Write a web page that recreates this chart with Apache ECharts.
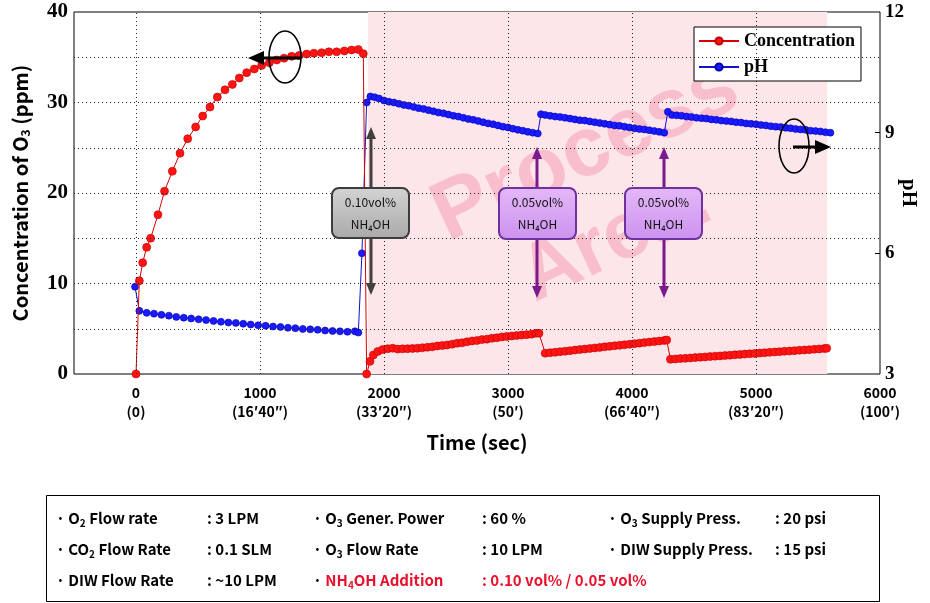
<!DOCTYPE html>
<html>
<head>
<meta charset="utf-8">
<script src="https://cdn.jsdelivr.net/npm/echarts@6/dist/echarts.min.js"></script>
<style>html,body{margin:0;padding:0;background:#fff}#c{width:930px;height:603px}</style>
</head>
<body>
<div id="c"></div>
<script>
// ---------- DATA ----------
const xTickLabels = ['0\n(0)', '1000\n(16′40″)', '2000\n(33′20″)', '3000\n(50′)', '4000\n(66′40″)', '5000\n(83′20″)', '6000\n(100′)'];
const leftTickLabels = ['0', '10', '20', '30', '40'];
const rightTickLabels = ['3', '6', '9', '12'];
const gridX = [0, 1000, 2000, 3000, 4000, 5000];
const gridY = [5, 10, 15, 20, 25, 30, 35];
const processArea = [1870, 5575];

// Concentration of O3 (ppm)
const concT1 = [0,27,54,86,118,177,230,293,355,417,481,538,597,656,718,777,833,893,954,1013,1075,1135,1194,1255,1315,1376,1435,1497,1556,1618,1680,1739,1793,1833,1860];
const concV1 = [0,10.3,12.3,14.0,15.0,17.6,20.2,22.4,24.4,26.0,27.3,28.5,29.5,30.6,31.4,32.0,32.7,33.3,33.7,34.1,34.4,34.7,34.9,35.1,35.2,35.35,35.45,35.5,35.6,35.6,35.7,35.8,35.85,35.4,0];
const concT2 = [1887,1914,1950,1990,2030,2070,2110,2150,2190,2230,2270,2310,2350,2390,2430,2470,2510,2550,2590,2630,2670,2710,2750,2790,2830,2870,2910,2950,2990,3030,3070,3110,3150,3190,3225,3250];
const concV2 = [1.4,2.1,2.5,2.7,2.8,2.85,2.75,2.78,2.8,2.82,2.85,2.9,2.95,3.0,3.1,3.15,3.2,3.3,3.4,3.45,3.55,3.65,3.7,3.8,3.85,3.95,4.0,4.1,4.15,4.2,4.25,4.3,4.35,4.4,4.5,4.5];
const concT3 = [3300,3340,3380,3420,3460,3500,3540,3580,3620,3660,3700,3740,3780,3820,3860,3900,3940,3980,4020,4060,4100,4140,4180,4220,4260,4280];
const concV3 = [2.30,2.36,2.40,2.47,2.52,2.58,2.64,2.70,2.76,2.82,2.88,2.94,3.00,3.06,3.12,3.17,3.23,3.29,3.35,3.41,3.47,3.53,3.58,3.64,3.70,3.76];
const concT4 = [4310,4350,4390,4430,4470,4510,4550,4590,4630,4670,4710,4750,4790,4830,4870,4910,4950,4990,5030,5070,5110,5150,5190,5230,5270,5310,5350,5390,5430,5470,5510,5550,5570];
const concV4 = [1.62,1.66,1.70,1.73,1.77,1.81,1.85,1.89,1.93,1.97,2.0,2.04,2.08,2.12,2.16,2.2,2.24,2.27,2.31,2.35,2.39,2.43,2.47,2.51,2.54,2.58,2.62,2.66,2.69,2.73,2.77,2.81,2.84];

// pH
const phT1 = [-8,27,86,145,205,265,325,385,445,505,565,625,685,745,805,865,925,985,1045,1105,1165,1225,1285,1345,1405,1465,1525,1585,1645,1705,1765,1793,1822,1860];
const phV1 = [5.17,4.57,4.52,4.5,4.47,4.45,4.42,4.4,4.38,4.36,4.34,4.32,4.3,4.28,4.27,4.25,4.23,4.21,4.2,4.18,4.17,4.15,4.14,4.12,4.11,4.1,4.08,4.07,4.06,4.05,4.06,4.03,6.0,9.75];
const phT2 = [1890,1925,1960,2000,2040,2080,2120,2160,2200,2240,2280,2320,2360,2400,2440,2480,2520,2560,2600,2640,2680,2720,2760,2800,2840,2880,2920,2960,3000,3040,3080,3120,3160,3200,3240];
const phV2 = [9.9,9.88,9.85,9.8,9.77,9.75,9.72,9.69,9.67,9.64,9.61,9.59,9.56,9.53,9.5,9.48,9.45,9.42,9.4,9.37,9.34,9.32,9.29,9.26,9.23,9.21,9.18,9.15,9.13,9.1,9.07,9.05,9.02,9.0,8.98];
const phT3 = [3266,3300,3340,3380,3420,3460,3500,3540,3580,3620,3660,3700,3740,3780,3820,3860,3900,3940,3980,4020,4060,4100,4140,4180,4220,4260];
const phV3 = [9.46,9.44,9.42,9.4,9.39,9.37,9.35,9.33,9.31,9.3,9.28,9.26,9.24,9.22,9.2,9.18,9.17,9.15,9.13,9.11,9.09,9.08,9.06,9.04,9.02,9.0];
const phT4 = [4289,4323,4360,4400,4440,4480,4520,4560,4600,4640,4680,4720,4760,4800,4840,4880,4920,4960,5000,5040,5080,5120,5160,5200,5240,5280,5320,5360,5400,5440,5480,5520,5560,5600];
const phV4 = [9.52,9.44,9.43,9.42,9.4,9.39,9.37,9.36,9.35,9.33,9.32,9.3,9.29,9.28,9.26,9.25,9.23,9.22,9.21,9.19,9.18,9.16,9.15,9.14,9.12,9.11,9.09,9.08,9.07,9.05,9.04,9.03,9.01,9.0];

// ---------- BUILD ----------
function pairs(ts, vs) { return ts.map((t, i) => [t, vs[i]]); }
const concData = [].concat(pairs(concT1, concV1), pairs(concT2, concV2), pairs(concT3, concV3), pairs(concT4, concV4));
const phData = [].concat(pairs(phT1, phV1), pairs(phT2, phV2), pairs(phT3, phV3), pairs(phT4, phV4));

const SANS = '"Noto Sans CJK KR", "Noto Sans", sans-serif';
const SERIF = '"Liberation Serif", "DejaVu Serif", serif';
const ZTOP = 100;

const chart = echarts.init(document.getElementById('c'), null, { renderer: 'canvas' });

function arrowV(x, y1, y2, color) {
  return [
    { type: 'rect', z: ZTOP, shape: { x: x - 1.5, y: y1 + 10, width: 3, height: (y2 - y1) - 20 }, style: { fill: color } },
    { type: 'polygon', z: ZTOP, shape: { points: [[x, y1], [x - 5, y1 + 12], [x + 5, y1 + 12]] }, style: { fill: color } },
    { type: 'polygon', z: ZTOP, shape: { points: [[x, y2], [x - 5, y2 - 12], [x + 5, y2 - 12]] }, style: { fill: color } }
  ];
}
function boxText(cx, cy, pct) {
  return { type: 'text', x: cx, y: cy, z: ZTOP + 20,
    style: { text: pct + '\nNH₄OH', align: 'center', verticalAlign: 'middle',
      fontFamily: SANS, fontSize: 12, lineHeight: 22, fill: '#111' } };
}
function boxRect(x, y, w, h, fill1, fill2, stroke) {
  return { type: 'rect', z: ZTOP + 10, shape: { x: x, y: y, width: w, height: h, r: 7 },
    style: { fill: new echarts.graphic.LinearGradient(0, 0, 0, 1, [{ offset: 0, color: fill1 }, { offset: 1, color: fill2 }]), stroke: stroke, lineWidth: 2 } };
}

const tRich = {
  n: { fontFamily: SANS, fontSize: 15, fontWeight: 'bold', fill: '#000', lineHeight: 20, verticalAlign: 'middle' },
  s: { fontFamily: SANS, fontSize: 10, fontWeight: 'bold', fill: '#000', lineHeight: 20, verticalAlign: 'bottom' },
  r: { fontFamily: SANS, fontSize: 15, fontWeight: 'bold', fill: '#e8102a', lineHeight: 20, verticalAlign: 'middle' },
  rs: { fontFamily: SANS, fontSize: 10, fontWeight: 'bold', fill: '#e8102a', lineHeight: 20, verticalAlign: 'bottom' }
};
const tableRows = [
  ['{n|· O}{s|2}{n| Flow rate}', '{n|: 3 LPM}', '{n|· O}{s|3}{n| Gener. Power}', '{n|: 60 %}', '{n|· O}{s|3}{n| Supply Press.}', '{n|: 20 psi}'],
  ['{n|· CO}{s|2}{n| Flow Rate}', '{n|: 0.1 SLM}', '{n|· O}{s|3}{n| Flow Rate}', '{n|: 10 LPM}', '{n|· DIW Supply Press.}', '{n|: 15 psi}'],
  ['{n|· DIW Flow Rate}', '{n|: ~10 LPM}', '{n|· }{r|NH}{rs|4}{r|OH Addition}', '{r|: 0.10 vol% / 0.05 vol%}', '', '']
];
const colX = [56, 207, 313, 482, 608, 775];
const rowY = [518, 549, 580];
const tableGraphics = [{ type: 'rect', z: ZTOP, shape: { x: 46.5, y: 495.5, width: 833, height: 106 }, style: { fill: '#fff', stroke: '#000', lineWidth: 1 } }];
tableRows.forEach((row, ri) => row.forEach((txt, ci) => {
  if (!txt) return;
  tableGraphics.push({ type: 'text', z: ZTOP + 1, x: colX[ci], y: rowY[ri], style: { text: txt, rich: tRich, align: 'left', verticalAlign: 'middle' } });
}));

const deg = Math.PI / 180;
const graphics = [
  // watermark (between pink area and data)
  { type: 'text', x: 586, y: 152, rotation: 25 * deg, z: 1.5,
    style: { text: 'Process', font: 'bold 84px "Liberation Sans", Arial, sans-serif', fill: 'rgba(243,135,160,0.42)', align: 'center', verticalAlign: 'middle' } },
  { type: 'text', x: 616, y: 240, rotation: 25 * deg, z: 1.5,
    style: { text: 'Area.', font: 'bold 80px "Liberation Sans", Arial, sans-serif', fill: 'rgba(243,135,160,0.42)', align: 'center', verticalAlign: 'middle' } },
  // ellipses & arrows
  { type: 'ellipse', z: ZTOP, shape: { cx: 285, cy: 57, rx: 16, ry: 26 }, style: { fill: 'none', stroke: '#000', lineWidth: 1.6 } },
  { type: 'rect', z: ZTOP, shape: { x: 262, y: 56.5, width: 38, height: 3 }, style: { fill: '#000' } },
  { type: 'polygon', z: ZTOP, shape: { points: [[248, 58], [264, 51], [264, 65]] }, style: { fill: '#000' } },
  { type: 'ellipse', z: ZTOP, shape: { cx: 794, cy: 146, rx: 15, ry: 27 }, style: { fill: 'none', stroke: '#000', lineWidth: 1.6 } },
  { type: 'rect', z: ZTOP, shape: { x: 793, y: 145.5, width: 24, height: 3 }, style: { fill: '#000' } },
  { type: 'polygon', z: ZTOP, shape: { points: [[831, 147], [815, 140], [815, 154]] }, style: { fill: '#000' } }
].concat(
  arrowV(371, 127, 295, '#404040'),
  arrowV(537, 147, 298, '#7a1a8c'),
  arrowV(664, 147, 298, '#7a1a8c'),
  [
    boxRect(332, 188, 77, 50, '#d4d4d4', '#a9a9a9', '#3c3c3c'),
    boxText(370.5, 213, '0.10vol%'),
    boxRect(499, 188, 77, 51, '#e4b8f8', '#cc92ee', '#7030a0'),
    boxText(537.5, 213.5, '0.05vol%'),
    boxRect(625, 188, 77, 51, '#e4b8f8', '#cc92ee', '#7030a0'),
    boxText(663.5, 213.5, '0.05vol%')
  ],
  tableGraphics
);

const option = {
  animation: false,
  backgroundColor: '#fff',
  grid: { left: 74, right: 50, top: 12, bottom: 229, show: true, borderColor: '#000', borderWidth: 1, backgroundColor: '#fff',
    containLabel: false, outerBoundsMode: 'none' },
  legend: {
    data: ['Concentration', 'pH'], orient: 'vertical', left: 694, top: 27,
    backgroundColor: '#fff', borderColor: '#000', borderWidth: 1, padding: [5, 6, 5, 4],
    itemWidth: 40, itemHeight: 9, itemGap: 8,
    textStyle: { fontFamily: SERIF, fontWeight: 'bold', fontSize: 18, color: '#000', lineHeight: 17 }
  },
  xAxis: {
    type: 'value', min: -500, max: 6000, interval: 500,
    name: 'Time (sec)', nameLocation: 'middle', nameGap: 58,
    nameTextStyle: { fontFamily: SANS, fontWeight: 'bold', fontSize: 20, color: '#000' },
    axisLine: { show: false }, axisTick: { show: false }, splitLine: { show: false },
    axisLabel: { margin: 9, fontFamily: SANS, fontWeight: 'bold', fontSize: 14, color: '#000', lineHeight: 19,
      formatter: v => (v >= 0 && v % 1000 === 0) ? xTickLabels[v / 1000] : '' }
  },
  yAxis: [
    { type: 'value', min: 0, max: 40, interval: 5, position: 'left',
      name: 'Concentration of O{s|3} (ppm)', nameLocation: 'middle', nameGap: 43,
      nameTextStyle: { fontFamily: SANS, fontWeight: 'bold', fontSize: 20, color: '#000',
        rich: { s: { fontFamily: SANS, fontWeight: 'bold', fontSize: 12, color: '#000', verticalAlign: 'bottom', padding: [10, 0, 0, 0] } } },
      axisLine: { show: false }, axisTick: { show: false }, splitLine: { show: false },
      axisLabel: { margin: 6, fontFamily: SERIF, fontWeight: 'bold', fontSize: 21, color: '#000',
        formatter: v => (v % 10 === 0) ? leftTickLabels[v / 10] : '' } },
    { type: 'value', min: 3, max: 12, interval: 1.5, position: 'right',
      name: 'pH', nameLocation: 'middle', nameGap: 18, nameRotate: -90, nameMoveOverlap: false,
      nameTextStyle: { fontFamily: SERIF, fontWeight: 'bold', fontSize: 21, color: '#000' },
      axisLine: { show: false },
      axisTick: { show: true, inside: true, length: 5, customValues: [6, 9], lineStyle: { color: '#000', width: 1 } },
      splitLine: { show: false },
      axisLabel: { margin: 5, fontFamily: SERIF, fontWeight: 'bold', fontSize: 19, color: '#000',
        formatter: v => { const i = rightTickLabels.indexOf(String(Math.round(v * 10) / 10)); return i >= 0 ? rightTickLabels[i] : ''; } } }
  ],
  series: [
    { name: 'bg', type: 'line', data: [[-500, 0]], showSymbol: false, symbol: 'none', silent: true, z: 1,
      lineStyle: { width: 0 },
      markArea: { silent: true, itemStyle: { color: '#fde6ea' },
        data: [[{ xAxis: processArea[0], yAxis: 0 }, { xAxis: processArea[1], yAxis: 40 }]] } },
    { name: 'gridlines', type: 'line', data: [[-500, 0]], showSymbol: false, symbol: 'none', silent: true, z: 2,
      lineStyle: { width: 0 },
      markLine: { silent: true, symbol: ['none', 'none'], label: { show: false },
        lineStyle: { color: '#222', width: 1, type: [1, 3] },
        data: gridX.map(v => ({ xAxis: v })).concat(gridY.map(v => ({ yAxis: v }))) } },
    { name: 'pH', type: 'line', yAxisIndex: 1, data: phData, z: 3,
      symbol: 'circle', symbolSize: 7, showAllSymbol: true,
      lineStyle: { color: '#1010d0', width: 1 }, itemStyle: { color: '#1a1aff', borderColor: '#0000b0', borderWidth: 0.6 } },
    { name: 'Concentration', type: 'line', yAxisIndex: 0, data: concData, z: 4,
      symbol: 'circle', symbolSize: 8, showAllSymbol: true,
      lineStyle: { color: '#d80000', width: 1 }, itemStyle: { color: '#ff1414', borderColor: '#c00000', borderWidth: 0.6 } }
  ],
  graphic: graphics
};
chart.setOption(option);
</script>
</body>
</html>
